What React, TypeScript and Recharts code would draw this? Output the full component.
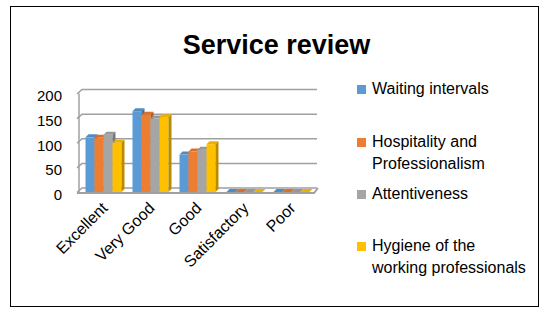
import React from 'react';
import { BarChart, Bar, XAxis, YAxis, CartesianGrid } from 'recharts';

const categories = ['Excellent', 'Very Good', 'Good', 'Satisfactory', 'Poor'];
const waitingIntervals = [111, 164, 76, 0, 0];
const hospitality = [110, 157, 82, 0, 0];
const attentiveness = [116, 149, 86, 0, 0];
const hygiene = [100, 152, 97, 0, 0];
const seriesNames = [
  'Waiting intervals',
  'Hospitality and Professionalism',
  'Attentiveness',
  'Hygiene of the working professionals',
];
const seriesKeys = ['waiting', 'hospitality', 'attentiveness', 'hygiene'];
const yTicks = [0, 50, 100, 150, 200];

const colors = ['#5B9BD5', '#ED7D31', '#A5A5A5', '#FFC000'];
const topColors = ['#4F8BC4', '#D8702A', '#979797', '#EBB000'];
const sideColors = ['#3D6F9E', '#AE5A20', '#787878', '#B98B00'];

const data = categories.map((c, i) => ({
  name: c,
  waiting: waitingIntervals[i],
  hospitality: hospitality[i],
  attentiveness: attentiveness[i],
  hygiene: hygiene[i],
}));

const W = 551;
const H = 316;
const M = { top: 93.5, right: 237, bottom: 94, left: 39 };
const X_AXIS_H = 30;
const FLOOR_Y = H - M.bottom - X_AXIS_H;
const DX = 3;
const DY = 3;
const FONT = '"Liberation Sans", Arial, sans-serif';

const makeShape = (idx: number) => (props: any) => {
  const { x, y, width, height } = props;
  if (x == null || y == null) return <g />;
  const h = Math.max(0, height || 0);
  const w = width;
  return (
    <g>
      <rect x={x} y={y} width={w} height={h} fill={colors[idx]} />
      <polygon
        points={`${x},${y} ${x + DX},${y - DY} ${x + w + DX},${y - DY} ${x + w},${y}`}
        fill={topColors[idx]}
      />
      <polygon
        points={`${x + w},${y} ${x + w + DX},${y - DY} ${x + w + DX},${y + h - DY} ${x + w},${y + h}`}
        fill={sideColors[idx]}
      />
    </g>
  );
};

const GridLine = (props: any) => {
  const { x1, y1, x2 } = props;
  const isFloor = Math.abs(y1 - FLOOR_Y) < 1;
  return (
    <g>
      <path
        d={`M${x1 - 2},${y1 + 0.5} L${x1 + 3},${y1 - 4} L${x2 + 3},${y1 - 4}`}
        stroke="#A0A0A0"
        strokeWidth={1.5}
        fill="none"
      />
      {isFloor && (
        <path
          d={`M${x1 - 2},${y1 + 1} L${x2},${y1 + 1} L${x2 + 4},${y1 - 4}`}
          stroke="#A0A0A0"
          strokeWidth={2}
          fill="none"
        />
      )}
    </g>
  );
};

const XTick = (props: any) => {
  const { x, y, payload } = props;
  return (
    <text
      x={0}
      y={0}
      transform={`translate(${x - 2},${y + 1}) rotate(-45)`}
      textAnchor="end"
      dy="0.71em"
      fontSize={16}
      fontFamily={FONT}
      fill="#000"
    >
      {payload.value}
    </text>
  );
};

const YTick = (props: any) => {
  const { x, y, payload } = props;
  return (
    <text x={x} y={y + 2.5} textAnchor="end" dy="0.355em" fontSize={15} fontFamily={FONT} fill="#000">
      {payload.value}
    </text>
  );
};

const legendTops = [78, 131, 183, 235];

export default function App() {
  return (
    <div style={{ position: 'absolute', left: 0, top: 0, width: W, height: H, background: '#fff' }}>
      <div
        style={{
          position: 'absolute',
          left: 10,
          top: 6,
          width: 529,
          height: 301,
          border: '1px solid #000',
          boxSizing: 'border-box',
        }}
      />
      <div
        style={{
          position: 'absolute',
          left: 0,
          width: 553,
          top: 29,
          textAlign: 'center',
          fontFamily: FONT,
          fontWeight: 'bold',
          fontSize: 27,
          lineHeight: '32px',
          color: '#000',
        }}
      >
        Service review
      </div>
      <div style={{ position: 'absolute', left: 0, top: 0 }}>
        <BarChart width={W} height={H} data={data} margin={M} barCategoryGap={6.5} barGap={0}>
          <CartesianGrid vertical={false} horizontal={(p: any) => <GridLine {...p} />} />
          <XAxis
            dataKey="name"
            height={X_AXIS_H}
            axisLine={false}
            tickLine={false}
            interval={0}
            tick={<XTick />}
          />
          <YAxis
            width={40}
            domain={[0, 200]}
            ticks={yTicks}
            axisLine={{ stroke: '#A0A0A0', strokeWidth: 1.5 }}
            tickLine={false}
            tickMargin={11}
            tick={<YTick />}
            interval={0}
          />
          {seriesKeys.map((k, i) => (
            <Bar
              key={k}
              dataKey={k}
              name={seriesNames[i]}
              fill={colors[i]}
              isAnimationActive={false}
              shape={makeShape(i)}
            />
          ))}
        </BarChart>
      </div>
      {seriesNames.map((n, i) => (
        <div
          key={n}
          style={{
            position: 'absolute',
            left: 357,
            top: legendTops[i],
            width: 180,
            fontFamily: FONT,
            fontSize: 16,
            lineHeight: '21.5px',
            color: '#000',
          }}
        >
          <span
            style={{
              position: 'absolute',
              left: 0,
              top: 6.5,
              width: 9,
              height: 9,
              background: colors[i],
            }}
          />
          <div style={{ marginLeft: 15, width: 160 }}>{n}</div>
        </div>
      ))}
    </div>
  );
}
